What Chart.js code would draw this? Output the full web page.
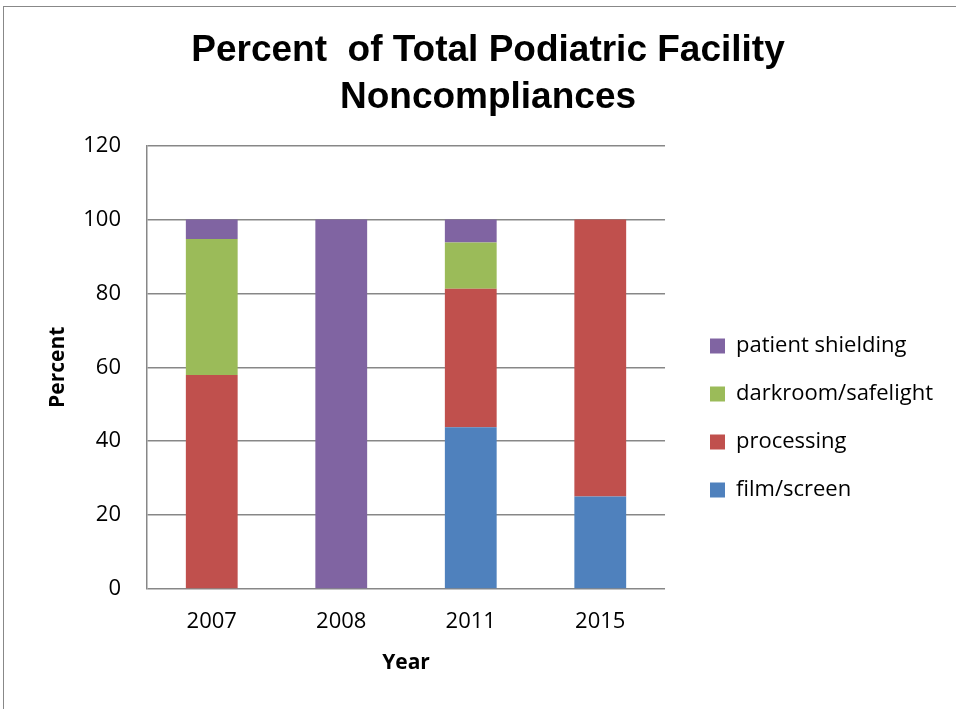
<!DOCTYPE html>
<html>
<head>
<meta charset="utf-8">
<script src="https://cdn.jsdelivr.net/npm/chart.js@4"></script>
<style>
  body { margin: 0; overflow: hidden; background: #fff; }
  #frame { position: absolute; left: 3px; top: 6px; width: 1000px; height: 1000px; border: 1.5px solid #888; }
  #chart { position: absolute; left: 0; top: 0; }
</style>
</head>
<body>
<div id="frame"></div>
<canvas id="chart" width="956" height="709"></canvas>
<script>
const years = ['2007', '2008', '2011', '2015'];
const filmScreen = [0, 0, 43.75, 25];
const processing = [57.9, 0, 37.5, 75];
const darkroom = [36.8, 0, 12.5, 0];
const shielding = [5.3, 100, 6.25, 0];
const seriesNames = ['film/screen', 'processing', 'darkroom/safelight', 'patient shielding'];

const GRID = '#878787';
const TICK_FONT = { family: '"Open Sans", sans-serif', size: 22 };
const BOLD_FONT = { family: '"Open Sans", sans-serif', size: 21, weight: 'bold' };
const LEGEND_SIZE = 22, LEGEND_PAD = 26, LEGEND_BOX = 15;
const PLOT_RIGHT = 665;
const LEGEND_GAP = 19;

// width the legend will take, so the space right of it can be reserved
const canvas = document.getElementById('chart');
const ctx = canvas.getContext('2d');
ctx.font = LEGEND_SIZE + 'px "Open Sans", sans-serif';
const textW = Math.max(...seriesNames.map(n => ctx.measureText(n).width));
const legendW = LEGEND_PAD + LEGEND_BOX + LEGEND_SIZE / 2 + textW + 10;

function bar(label, data, color) {
  return { label, data, backgroundColor: color, borderWidth: 0, yAxisID: 'y' };
}

// empty axes used only to reserve space on either side of the legend
function spacer(weight, width) {
  return {
    type: 'linear', position: 'right', weight,
    grid: { display: false }, ticks: { display: false }, border: { display: false },
    afterFit: s => { s.width = width; },
  };
}

new Chart(canvas, {
  type: 'bar',
  data: {
    labels: years,
    datasets: [
      bar(seriesNames[0], filmScreen, '#4F81BD'),
      bar(seriesNames[1], processing, '#C0504D'),
      bar(seriesNames[2], darkroom, '#9BBB59'),
      bar(seriesNames[3], shielding, '#8064A2'),
    ],
  },
  options: {
    responsive: false, animation: false,
    layout: { padding: { left: 20, right: 0, top: 0, bottom: 0 } },
    datasets: { bar: { categoryPercentage: 1, barPercentage: 0.4 } },
    plugins: {
      tooltip: { enabled: false },
      title: {
        display: true,
        text: ['Percent  of Total Podiatric Facility', 'Noncompliances'],
        color: '#000',
        font: { family: '"Liberation Sans", Arial, sans-serif', size: 37, weight: 'bold', lineHeight: 1.25 },
        padding: { top: 28, bottom: 25 },
      },
      legend: {
        position: 'right', align: 'start', reverse: true, maxWidth: 400,
        title: { display: true, text: ' ', font: { size: 10, lineHeight: 1 }, padding: { top: 150, bottom: 149 } },
        labels: {
          color: '#000', boxWidth: LEGEND_BOX, boxHeight: LEGEND_BOX, padding: LEGEND_PAD,
          font: { family: '"Open Sans", sans-serif', size: LEGEND_SIZE },
        },
      },
    },
    scales: {
      x: {
        stacked: true,
        grid: { display: false, drawTicks: false },
        border: { display: false },
        ticks: { color: '#000', font: TICK_FONT, padding: 20 },
        title: { display: true, text: 'Year', color: '#000', font: BOLD_FONT, padding: { top: 0, bottom: 33 } },
        afterFit: s => { s.height = 120; },
      },
      y: {
        stacked: true, min: 0, max: 120,
        grid: { color: GRID, lineWidth: 1.5, drawTicks: false },
        border: { color: GRID, width: 1.5 },
        ticks: { stepSize: 20, color: '#000', font: TICK_FONT, padding: 26 },
        title: { display: true, text: 'Percent', color: '#000', font: BOLD_FONT, padding: { top: 25, bottom: 0 } },
        afterFit: s => { s.width = 127; },
      },
      pad1: spacer(0, LEGEND_GAP),
      pad2: spacer(2000, Math.max(0, Math.floor(956 - PLOT_RIGHT - LEGEND_GAP - legendW))),
    },
  },
});
</script>
</body>
</html>
